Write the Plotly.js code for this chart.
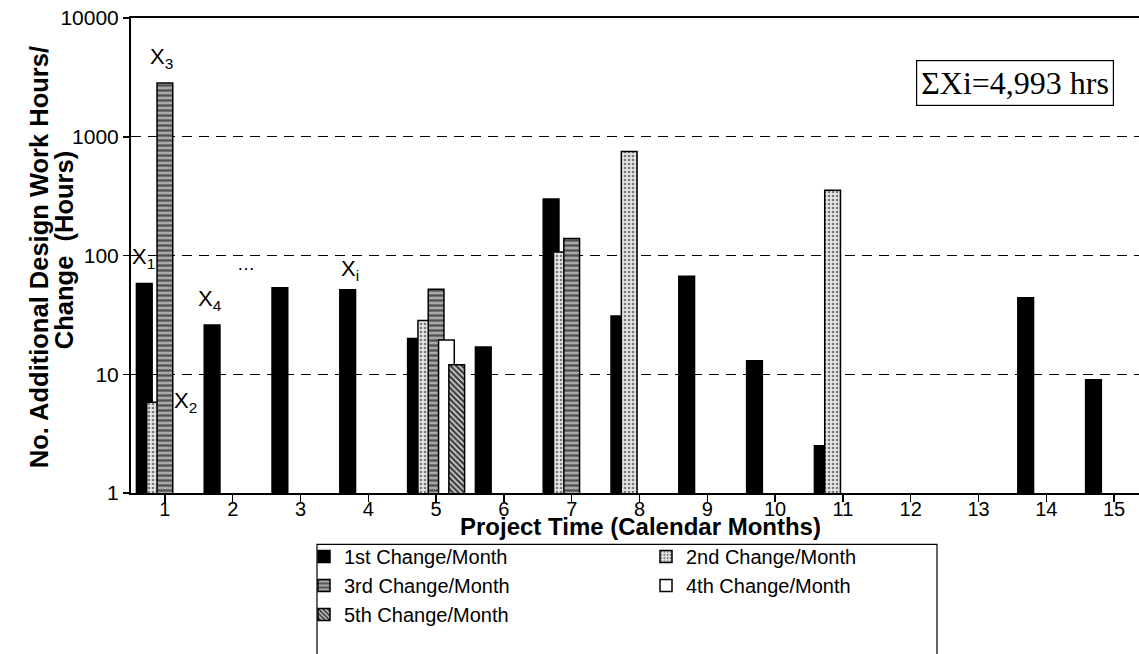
<!DOCTYPE html>
<html>
<head>
<meta charset="utf-8">
<script src="https://cdn.plot.ly/plotly-3.0.1.min.js"></script>
<style>
html,body{margin:0;padding:0;overflow:hidden;background:#fff;}
#chart{width:1150px;height:654px;}
</style>
</head>
<body>
<div id="chart"></div>
<script>
// ---- data ----
const months = [1,2,3,4,5,6,7,8,9,10,11,12,13,14,15];
const monthLabels = ["1","2","3","4","5","6","7","8","9","10","11","12","13","14","15"];
const change1 = [58, 26, 53.5, 51.5, 20, 17, 299, 31, 67, 13, 2.5, null, null, 44, 9];
const change2 = [5.8, null, null, null, 28.4, null, 107, 750, null, null, 355, null, null, null, null];
const change3 = [2830, null, null, null, 52, null, 139, null, null, null, null, null, null, null, null];
const change4 = [null, null, null, null, 19.4, null, null, null, null, null, null, null, null, null, null];
const change5 = [null, null, null, null, 12, null, null, null, null, null, null, null, null, null, null];
const seriesNames = ["1st Change/Month","2nd Change/Month","3rd Change/Month","4th Change/Month","5th Change/Month"];
const yTickVals = [1, 10, 100, 1000, 10000];
const yTickText = ["1", "10", "100", "1000", "10000"];
const yTitleLines = ["No. Additional Design Work Hours/", "Change\u00A0\u00A0(Hours)"];
const xTitle = "Project Time (Calendar Months)";
const sumLabel = "\u03A3Xi=4,993 hrs";

const BW = 0.232, STEP = 0.152;
function off(k){ return -BW/2 + (k-2)*STEP; }
const line = {color:'#000', width:1.5};
const styles = [
  {color:'#000', line: line},
  {color:'#e6e6e6', line: line, pattern:{shape:'.', fgcolor:'#7a7a7a', bgcolor:'#e6e6e6', size:4, solidity:0.35}},
  {color:'#9a9a9a', line: line, pattern:{shape:'-', fgcolor:'#505050', bgcolor:'#a8a8a8', size:5, solidity:0.45}},
  {color:'#fff', line: line},
  {color:'#bdbdbd', line: line, pattern:{shape:'\\', fgcolor:'#333', bgcolor:'#c8c8c8', size:4, solidity:0.5}}
];
const allSeries = [change1, change2, change3, change4, change5];
const traces = allSeries.map((vals, k) => ({
  type:'bar', name: seriesNames[k], x: months, y: vals,
  offset: off(k), width: BW, marker: styles[k], hoverinfo:'x+y+name'
}));

const W = 1150, H = 654;
const PL = 131, PW = 1017, PB = 492.7, PH = 474.7;
function px2paperX(px){ return (px - PL) / PW; }
function px2paperY(py){ return (PB - py) / PH; }
const F = 'Arial, "Liberation Sans", Helvetica, sans-serif';
const annFont = {family:F, size:22, color:'#000'};
const layout = {
  width:W, height:H,
  margin:{l:PL, r:W-PL-PW, t:18, b:161},
  paper_bgcolor:'#fff', plot_bgcolor:'#fff',
  barmode:'overlay',
  showlegend:true,
  font:{family:F, color:'#000'},
  xaxis:{
    type:'linear', range:[0.5, 15.5], tickvals: months, ticktext: monthLabels,
    tickson:'boundaries', ticks:'outside', ticklen:7, tickwidth:1.5, tickcolor:'#000',
    ticklabelstandoff:-10,
    showline:true, linecolor:'#000', linewidth:2, mirror:true, showgrid:false, zeroline:false,
    tickfont:{family:F, size:20, color:'#000'},
    automargin:false
  },
  yaxis:{
    type:'log', range:[0, 4], tickvals: yTickVals, ticktext: yTickText,
    ticks:'outside', ticklen:6, tickwidth:1.5, tickcolor:'#000',
    showline:true, linecolor:'#000', linewidth:2, zeroline:false,
    showgrid:true, gridcolor:'#000', gridwidth:1.4, griddash:'10px,7px',
    tickfont:{family:F, size:21, color:'#000'},
    automargin:false
  },
  legend:{
    orientation:'h', xref:'container', yref:'container',
    x:304/W, y:1-537/H, xanchor:'left', yanchor:'top',
    bgcolor:'rgba(0,0,0,0)', borderwidth:0,
    font:{family:F, size:20, color:'#000'},
    entrywidth:297, entrywidthmode:'pixels', traceorder:'normal'
  },
  shapes:[
    {type:'rect', xref:'paper', yref:'paper', layer:'above',
     x0:px2paperX(317), x1:px2paperX(937), y0:px2paperY(662), y1:px2paperY(544),
     line:{color:'#000', width:1.2}, fillcolor:'rgba(0,0,0,0)'}
  ],
  annotations:[
    {x:0.68, y:1.979, xref:'x', yref:'y', text:'X<sub>1</sub>', showarrow:false, font:annFont},
    {x:0.95, y:3.665, xref:'x', yref:'y', text:'X<sub>3</sub>', showarrow:false, font:annFont},
    {x:1.30, y:0.765, xref:'x', yref:'y', text:'X<sub>2</sub>', showarrow:false, font:annFont},
    {x:1.67, y:1.623, xref:'x', yref:'y', text:'X<sub>4</sub>', showarrow:false, font:annFont},
    {x:2.19, y:1.93, xref:'x', yref:'y', text:'\u2026', showarrow:false, font:{family:F, size:18, color:'#000'}},
    {x:3.73, y:1.876, xref:'x', yref:'y', text:'X<sub>i</sub>', showarrow:false, font:annFont},
    {x:px2paperX(1015), y:px2paperY(83), xref:'paper', yref:'paper', xanchor:'center', yanchor:'middle',
     text: sumLabel, showarrow:false,
     font:{family:'"Liberation Serif", "Times New Roman", serif', size:32, color:'#000'},
     bordercolor:'#000', borderwidth:1.2, borderpad:4, bgcolor:'#fff'},
    {x:px2paperX(640), y:px2paperY(526), xref:'paper', yref:'paper', xanchor:'center', yanchor:'middle',
     text:'<b>' + xTitle + '</b>', showarrow:false, font:{family:F, size:24, color:'#000'}},
    {x:px2paperX(39), y:px2paperY(257), xref:'paper', yref:'paper', xanchor:'center', yanchor:'middle', textangle:-90,
     text:'<b>' + yTitleLines[0] + '</b>', showarrow:false, font:{family:F, size:25.5, color:'#000'}},
    {x:px2paperX(64), y:px2paperY(250), xref:'paper', yref:'paper', xanchor:'center', yanchor:'middle', textangle:-90,
     text:'<b>' + yTitleLines[1] + '</b>', showarrow:false, font:{family:F, size:25.5, color:'#000'}}
  ]
};
Plotly.newPlot('chart', traces, layout, {displayModeBar:false, staticPlot:true});
</script>
</body>
</html>
